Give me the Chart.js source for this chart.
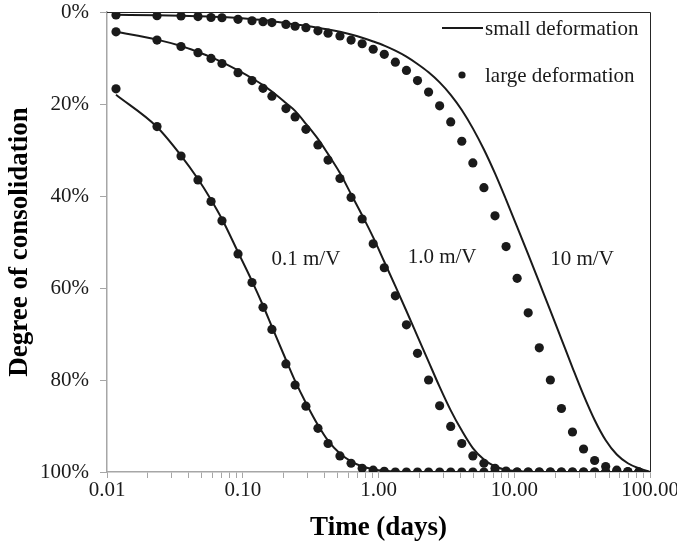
<!DOCTYPE html>
<html>
<head>
<meta charset="utf-8">
<script src="https://cdn.jsdelivr.net/npm/chart.js@4.4.1/dist/chart.umd.min.js"></script>
<style>
  html, body { margin: 0; padding: 0; background: #fff; }
  #wrap { width: 677px; height: 548px; }
</style>
</head>
<body>
<div id="wrap"><canvas id="consolChart" width="677" height="548"></canvas></div>
<script>
// time of the large deformation points (days)
var tDots = [0.01165, 0.02335, 0.0351, 0.0468, 0.0584, 0.0703, 0.0923, 0.117, 0.141, 0.164,
  0.208, 0.243, 0.292, 0.358, 0.425, 0.520, 0.628, 0.758, 0.914, 1.103, 1.331, 1.606, 1.938,
  2.338, 2.821, 3.404, 4.107, 4.955, 5.979, 7.214, 8.704, 10.50, 12.67, 15.29, 18.45, 22.26,
  26.85, 32.40, 39.09, 47.17, 56.91, 68.66, 82.84];
// time of the small deformation curves (days)
var tLine = [0.01165, 0.02335, 0.0351, 0.0468, 0.0584, 0.0703, 0.0923, 0.117, 0.141, 0.164,
  0.208, 0.243, 0.292, 0.358, 0.425, 0.520, 0.628, 0.758, 0.914, 1.103, 1.331, 1.606, 1.938,
  2.338, 2.821, 3.404, 4.107, 4.955, 5.979, 7.214, 8.704, 10.50, 12.67, 15.29, 18.45, 22.26,
  26.85, 32.40, 39.09, 47.17, 56.91, 68.66, 82.84, 100];

// degree of consolidation (%)
var large01 = [16.7, 24.9, 31.3, 36.5, 41.2, 45.4, 52.6, 58.8, 64.2, 69.0, 76.5, 81.1, 85.7, 90.5,
  93.8, 96.5, 98.1, 99.2, 99.6, 99.85, 100, 100, 100, 100, 100, 100, 100, 100, 100, 100, 100,
  100, 100, 100, 100, 100, 100, 100, 100, 100, 100, 100, 100];
var large1 = [4.3, 6.1, 7.5, 8.85, 10.1, 11.2, 13.2, 14.9, 16.6, 18.3, 21.0, 22.8, 25.5, 28.9,
  32.2, 36.2, 40.3, 45.0, 50.4, 55.6, 61.7, 68.0, 74.2, 80.0, 85.6, 90.1, 93.8, 96.5, 98.1,
  99.2, 99.8, 100, 100, 100, 100, 100, 100, 100, 100, 100, 100, 100, 100];
var large10 = [0.65, 0.8, 0.87, 1.0, 1.2, 1.25, 1.6, 1.9, 2.1, 2.3, 2.7, 3.1, 3.4, 4.1, 4.6, 5.2,
  6.1, 6.9, 8.1, 9.2, 10.9, 12.7, 14.9, 17.4, 20.4, 23.9, 28.1, 32.8, 38.2, 44.3, 51.0, 57.9,
  65.4, 73.0, 80.0, 86.2, 91.3, 95.0, 97.5, 98.8, 99.6, 99.9, 100];

var small01 = [18.0, 25.0, 31.2, 36.3, 40.8, 45.0, 52.2, 58.5, 63.8, 68.4, 75.6, 80.2, 85.0, 89.8,
  93.2, 96.0, 97.7, 98.8, 99.4, 99.75, 99.9, 100, 100, 100, 100, 100, 100, 100, 100, 100, 100,
  100, 100, 100, 100, 100, 100, 100, 100, 100, 100, 100, 100, 100];
var small1 = [4.3, 6.0, 7.4, 8.7, 9.8, 10.9, 12.7, 14.4, 15.9, 17.3, 19.8, 21.5, 24.3, 27.6, 30.9,
  35.0, 39.6, 44.2, 49.0, 54.3, 59.6, 65.0, 70.5, 76.0, 81.5, 86.6, 91.0, 94.8, 97.3, 98.8,
  99.5, 99.8, 99.95, 100, 100, 100, 100, 100, 100, 100, 100, 100, 100, 100];
var small10 = [0.6, 0.7, 0.8, 0.9, 1.0, 1.1, 1.3, 1.55, 1.75, 2.0, 2.4, 2.7, 3.0, 3.4, 3.8, 4.3,
  4.9, 5.6, 6.4, 7.3, 8.4, 9.7, 11.3, 13.1, 15.3, 18.0, 21.3, 25.3, 29.9, 35.1, 40.8, 46.7,
  52.7, 58.8, 64.9, 71.1, 77.3, 83.3, 88.7, 93.1, 96.2, 98.1, 99.2, 100];

// curve labels and where they sit (days, %)
var curveNames = ['0.1 m/V', '1.0 m/V', '10 m/V'];
var curveNameX = [0.292, 2.94, 31.6];
var curveNameY = [53.7, 53.3, 53.7];

var xDecades = [0.01, 0.1, 1, 10, 100];
var xDecadeLabels = ['0.01', '0.10', '1.00', '10.00', '100.00'];
var yTicks = [0, 20, 40, 60, 80, 100];

var legendNames = ['small deformation', 'large deformation'];

var serif = '"Liberation Serif", "Times New Roman", serif';
var ink = '#1a1a1a';

function pts(xs, ys) {
  var out = [];
  for (var i = 0; i < ys.length; i++) out.push({x: xs[i], y: ys[i]});
  return out;
}

function dotSet(ys) {
  return {
    data: pts(tDots, ys), showLine: false, pointRadius: 4.6, pointHoverRadius: 4.6,
    pointBackgroundColor: ink, pointBorderWidth: 0, borderColor: ink
  };
}
function lineSet(ys) {
  return {
    data: pts(tLine, ys), showLine: true, pointRadius: 0, borderColor: ink, borderWidth: 2,
    cubicInterpolationMode: 'monotone', fill: false
  };
}

// frame on top/right, legend and curve labels
var extras = {
  id: 'extras',
  afterDatasetsDraw: function(chart) {
    var ctx = chart.ctx, a = chart.chartArea;
    var xs = chart.scales.x, ys = chart.scales.y;
    ctx.save();
    ctx.strokeStyle = '#262626';
    ctx.lineWidth = 1;
    ctx.beginPath();
    ctx.moveTo(a.left, a.top + 0.5);
    ctx.lineTo(a.right + 0.5, a.top + 0.5);
    ctx.lineTo(a.right + 0.5, a.bottom);
    ctx.stroke();

    ctx.fillStyle = ink;
    ctx.font = '21px ' + serif;
    ctx.textBaseline = 'middle';
    ctx.textAlign = 'center';
    for (var i = 0; i < curveNames.length; i++) {
      ctx.fillText(curveNames[i], xs.getPixelForValue(curveNameX[i]), ys.getPixelForValue(curveNameY[i]));
    }

    // legend
    ctx.textAlign = 'left';
    var lx = a.right - 208, tx = a.right - 165;
    var r1 = a.top + 16, r2 = a.top + 63;
    ctx.strokeStyle = ink;
    ctx.lineWidth = 2;
    ctx.beginPath();
    ctx.moveTo(lx, r1);
    ctx.lineTo(lx + 41, r1);
    ctx.stroke();
    ctx.fillText(legendNames[0], tx, r1 + 1);
    ctx.beginPath();
    ctx.arc(lx + 20, r2, 3.6, 0, Math.PI * 2);
    ctx.fill();
    ctx.fillText(legendNames[1], tx, r2 + 1);
    ctx.restore();
  }
};

var ctx = document.getElementById('consolChart').getContext('2d');
var myChart = new Chart(ctx, {
  type: 'scatter',
  data: {
    datasets: [
      dotSet(large01), dotSet(large1), dotSet(large10),
      lineSet(small01), lineSet(small1), lineSet(small10)
    ]
  },
  options: {
    responsive: false,
    animation: false,
    events: [],
    layout: { padding: { top: 12, right: 27, left: 0, bottom: 0 } },
    plugins: { legend: { display: false }, tooltip: { enabled: false } },
    scales: {
      x: {
        type: 'logarithmic',
        min: 0.01,
        max: 100,
        afterBuildTicks: function(scale) {
          var t = [];
          for (var d = 0; d < xDecades.length; d++) {
            t.push({value: xDecades[d], major: true});
            if (d < xDecades.length - 1) {
              for (var k = 2; k <= 9; k++) t.push({value: xDecades[d] * k, major: false});
            }
          }
          scale.ticks = t;
        },
        afterFit: function(scale) {
          scale.height = 76;
          scale.paddingLeft = 0;
          scale.paddingRight = 0;
        },
        ticks: {
          autoSkip: false,
          maxRotation: 0,
          padding: 0,
          color: ink,
          font: { family: serif, size: 21 },
          callback: function(v) {
            var i = xDecades.indexOf(v);
            return i >= 0 ? xDecadeLabels[i] : '';
          }
        },
        grid: { drawOnChartArea: false, drawTicks: true, tickLength: 6, color: '#a6a6a6' },
        border: { color: '#a6a6a6', width: 1.5 },
        title: {
          display: true, text: 'Time (days)', color: '#000',
          font: { family: serif, size: 27, weight: 'bold' }, padding: { top: 0, bottom: 4 }
        }
      },
      y: {
        type: 'linear',
        min: 0,
        max: 100,
        reverse: true,
        afterBuildTicks: function(scale) {
          scale.ticks = yTicks.map(function(v) { return {value: v}; });
        },
        afterFit: function(scale) {
          scale.width = 107;
          scale.paddingTop = 0;
          scale.paddingBottom = 0;
        },
        ticks: {
          padding: 11,
          color: ink,
          font: { family: serif, size: 21 },
          callback: function(v) { return v + '%'; }
        },
        grid: { drawOnChartArea: false, drawTicks: true, tickLength: 7, color: '#a6a6a6' },
        border: { color: '#a6a6a6', width: 1.5 },
        title: {
          display: true, text: 'Degree of consolidation', color: '#000',
          font: { family: serif, size: 27, weight: 'bold' }, padding: { top: 4, bottom: 0 }
        }
      }
    }
  },
  plugins: [extras]
});
</script>
</body>
</html>
